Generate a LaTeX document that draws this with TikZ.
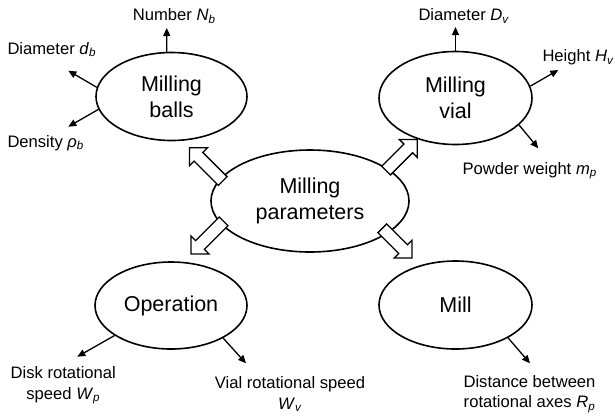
\documentclass[tikz,border=0pt]{standalone}
\usepackage{fontspec}
\setmainfont{Liberation Sans}
\usetikzlibrary{shapes.geometric,shapes.arrows,arrows.meta}
\newcommand{\param}[2]{\textit{#1}\textsubscript{\textit{#2}}}
\tikzset{
  oval/.style={ellipse, draw, line width=1.6pt, inner sep=0pt, align=center, font=\fontsize{21.5}{26}\selectfont},
  lbl/.style={inner sep=0pt, font=\fontsize{16.6}{20.5}\selectfont},
  attr/.style={-{Triangle[length=8pt,width=7pt]}, line width=1.3pt},
  fat/.style={single arrow, draw, fill=white, line width=1.3pt, inner xsep=0pt, inner ysep=5.5pt, single arrow head extend=6.5pt, single arrow tip angle=90}
}

\begin{document}
\begin{tikzpicture}[x=1pt,y=-1pt]
    \useasboundingbox (0,0) rectangle (615,416);
    % the five ovals
    \node[oval, minimum width=151pt, minimum height=88pt] (balls) at (171.5,96.5) {Milling\\balls};
    \node[oval, minimum width=153pt, minimum height=93pt] (vial) at (455.5,98) {Milling\\vial};
    \node[oval, minimum width=198pt, minimum height=102pt] (par) at (310,201) {Milling\\parameters};
    \node[oval, minimum width=152pt, minimum height=87pt] (oper) at (171,305.5) {Operation};
    \node[oval, minimum width=153pt, minimum height=88pt] (mill) at (455.5,305) {Mill};
    % hollow arrows out of the centre
    \node[fat, minimum height=47pt, rotate=135] (a1) at (208.3,166.6) {};
    \node[fat, minimum height=44pt, rotate=45] (a2) at (399.5,157.2) {};
    \node[fat, minimum height=46pt, rotate=225] (a3) at (209.5,235.5) {};
    \node[fat, minimum height=42pt, rotate=-45] (a4) at (395,241) {};
    % arrow ends
    \coordinate (nbend) at (166.7,28);
    \coordinate (dbend) at (68.3,70.7);
    \coordinate (rbend) at (68.3,126.7);
    \coordinate (dvend) at (455.5,27);
    \coordinate (hvend) at (558.3,70);
    \coordinate (mpend) at (538.3,148.3);
    \coordinate (wpend) at (77.3,356.7);
    \coordinate (wvend) at (246,363.3);
    \coordinate (rpend) at (530,363.3);
    \draw[attr] (balls.96) -- (nbend);
    \draw[attr] (balls.173) -- (dbend);
    \draw[attr] (balls.190) -- (rbend);
    \draw[attr] (vial.90) -- (dvend);
    \draw[attr] (vial.9) -- (hvend);
    \draw[attr] (vial.-23) -- (mpend);
    \draw[attr] (oper.208) -- (wpend);
    \draw[attr] (oper.-32) -- (wvend);
    \draw[attr] (mill.-32) -- (rpend);
    % labels
    \node[lbl, anchor=base west] (nb) at (132.7,20.7) {Number \param{N}{b}};
    \node[lbl, anchor=base west] (db) at (7.3,54) {Diameter \param{d}{b}};
    \node[lbl, anchor=base west] (rb) at (7.3,147.3) {Density \param{ρ}{b}};
    \node[lbl, anchor=base west] (dv) at (418.3,20.7) {Diameter \param{D}{v}};
    \node[lbl, anchor=base west] (hv) at (542.3,61.7) {Height \param{H}{v}};
    \node[lbl, anchor=base west] (mp) at (462.3,174) {Powder weight \param{m}{p}};
    \node[lbl, align=center, anchor=north] (wp) at (63.3,366.6) {Disk rotational\\speed \param{W}{p}};
    \node[lbl, align=center, anchor=north] (wv) at (290,376.6) {Vial rotational speed\\\param{W}{v}};
    \node[lbl, align=center, anchor=north] (rp) at (529.5,375) {Distance between\\rotational axes \param{R}{p}};
\end{tikzpicture}
\end{document}
